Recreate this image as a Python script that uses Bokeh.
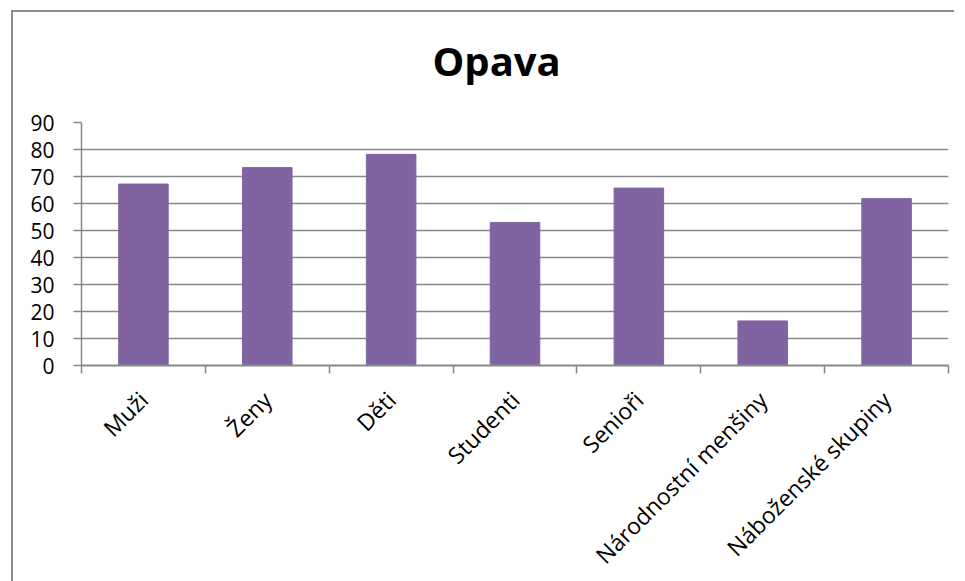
from math import pi
from bokeh.plotting import figure
from bokeh.models import Range1d, FixedTicker, Title
from bokeh.embed import file_html
from bokeh.resources import INLINE

categories = ["Muži", "Ženy", "Děti", "Studenti", "Senioři", "Národnostní menšiny", "Náboženské skupiny"]
values = [67.2, 73.3, 78.2, 53.0, 65.7, 16.5, 61.8]
y_ticks = [0, 10, 20, 30, 40, 50, 60, 70, 80, 90]
chart_title = "Opava"

centers = [i + 0.5 for i in range(len(categories))]
bounds = list(range(len(categories) + 1))

p = figure(width=943, height=572, output_backend="svg", toolbar_location=None,
           x_range=Range1d(0, len(categories)), y_range=Range1d(0, 90),
           min_border_left=68, min_border_right=8, min_border_top=110, min_border_bottom=202)
p.margin = (10, 0, 0, 11)
p.styles = {"border-left": "2px solid #8c8c8c", "border-top": "2px solid #8c8c8c"}

# spacer title (closest to frame), then real title above it
p.add_layout(Title(text=" ", text_font_size="16px", standoff=11, text_color="white"), "above")
p.add_layout(Title(text=chart_title, align="left", offset=351, text_font="Open Sans",
                   text_font_size="40px", text_font_style="bold", text_color="#000000",
                   standoff=10), "above")

p.outline_line_color = None
p.background_fill_color = "white"
p.border_fill_color = "white"

p.vbar(x=centers, top=values, width=0.4, fill_color="#8064A2", line_color="#8064A2")

grid_color = "#888888"
p.xgrid.visible = False
p.ygrid.ticker = FixedTicker(ticks=y_ticks)
p.ygrid.grid_line_color = grid_color
p.ygrid.grid_line_width = 1.5

p.yaxis.ticker = FixedTicker(ticks=y_ticks)
p.yaxis.axis_line_color = grid_color
p.yaxis.axis_line_width = 1.5
p.yaxis.major_tick_line_color = grid_color
p.yaxis.major_tick_line_width = 1.5
p.yaxis.major_tick_out = 8
p.yaxis.major_tick_in = 0
p.yaxis.minor_tick_line_color = None
p.yaxis.major_label_standoff = 19
p.yaxis.major_label_text_font = "Open Sans"
p.yaxis.major_label_text_font_size = "21px"
p.yaxis.major_label_text_color = "#000000"

p.xaxis.ticker = FixedTicker(ticks=centers, minor_ticks=bounds)
p.xaxis.major_label_overrides = {c: name for c, name in zip(centers, categories)}
p.xaxis.major_label_orientation = pi / 4
p.xaxis.axis_line_color = grid_color
p.xaxis.axis_line_width = 2
p.xaxis.major_tick_line_color = None
p.xaxis.minor_tick_line_color = grid_color
p.xaxis.minor_tick_line_width = 1.5
p.xaxis.minor_tick_out = 8
p.xaxis.minor_tick_in = 0
p.xaxis.major_label_standoff = 22
p.xaxis.major_label_text_font = "Open Sans"
p.xaxis.major_label_text_font_size = "23px"
p.xaxis.major_label_text_color = "#000000"

open("out.html", "w").write(file_html(p, INLINE))
